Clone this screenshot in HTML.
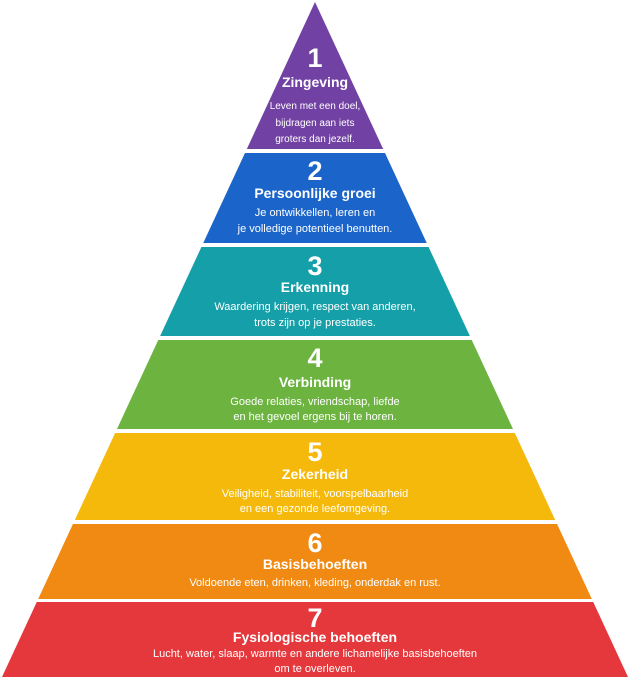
<!DOCTYPE html>
<html><head><meta charset="utf-8"><style>
html,body{margin:0;padding:0;background:#fff;}
svg{display:block;}
text{font-family:"Liberation Sans",sans-serif;fill:#fff;text-anchor:middle;}
.n{font-size:27px;font-weight:bold;}
.t{font-size:14px;font-weight:bold;}
.d{font-size:11px;}
.s{font-size:10px;}
</style></head><body>
<svg width="630" height="679" viewBox="0 0 630 679" xmlns="http://www.w3.org/2000/svg">
<defs><clipPath id="tri"><polygon points="315,2 628,677 2,677"/></clipPath></defs>
<g clip-path="url(#tri)">
<rect x="0" y="0" width="630" height="149" fill="#7142a3"/>
<rect x="0" y="153" width="630" height="90" fill="#1b64c9"/>
<rect x="0" y="247" width="630" height="89" fill="#15a0a9"/>
<rect x="0" y="340" width="630" height="89" fill="#6cb33f"/>
<rect x="0" y="433" width="630" height="87" fill="#f5b90b"/>
<rect x="0" y="524" width="630" height="75" fill="#f08a12"/>
<rect x="0" y="602" width="630" height="77" fill="#e5383c"/>
</g>
<text class="n" x="315" y="67">1</text>
<text class="t" x="315" y="87">Zingeving</text>
<text class="s" x="315" y="109">Leven met een doel,</text>
<text class="s" x="315" y="126">bijdragen aan iets</text>
<text class="s" x="315" y="142">groters dan jezelf.</text>
<text class="n" x="315" y="180">2</text>
<text class="t" x="315" y="198">Persoonlijke groei</text>
<text class="d" x="315" y="216">Je ontwikkellen, leren en</text>
<text class="d" x="315" y="232">je volledige potentieel benutten.</text>
<text class="n" x="315" y="275">3</text>
<text class="t" x="315" y="292">Erkenning</text>
<text class="d" x="315" y="310">Waardering krijgen, respect van anderen,</text>
<text class="d" x="315" y="326">trots zijn op je prestaties.</text>
<text class="n" x="315" y="367">4</text>
<text class="t" x="315" y="387">Verbinding</text>
<text class="d" x="315" y="405">Goede relaties, vriendschap, liefde</text>
<text class="d" x="315" y="420">en het gevoel ergens bij te horen.</text>
<text class="n" x="315" y="461">5</text>
<text class="t" x="315" y="479">Zekerheid</text>
<text class="d" x="315" y="497">Veiligheid, stabiliteit, voorspelbaarheid</text>
<text class="d" x="315" y="512">en een gezonde leefomgeving.</text>
<text class="n" x="315" y="552">6</text>
<text class="t" x="315" y="569">Basisbehoeften</text>
<text class="d" x="315" y="586">Voldoende eten, drinken, kleding, onderdak en rust.</text>
<text class="n" x="315" y="627">7</text>
<text class="t" x="315" y="642">Fysiologische behoeften</text>
<text class="d" x="315" y="657">Lucht, water, slaap, warmte en andere lichamelijke basisbehoeften</text>
<text class="d" x="315" y="672">om te overleven.</text>
</svg>
</body></html>
